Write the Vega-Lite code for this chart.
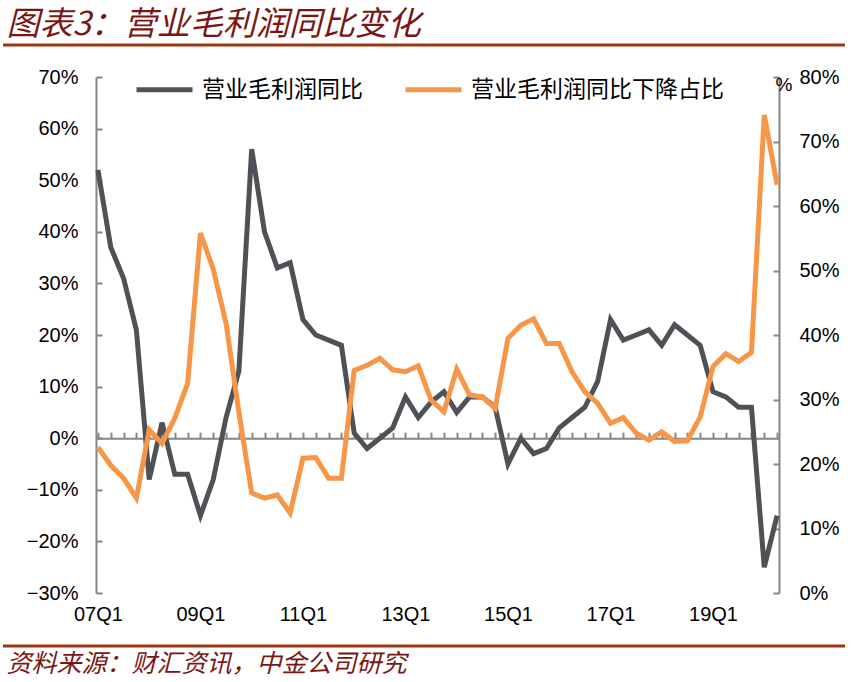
{
  "$schema": "https://vega.github.io/schema/vega-lite/v6.json",
  "background": "white",
  "padding": {"left": 0, "top": 8, "right": 8, "bottom": 0},
  "spacing": 20,
  "config": {"view": {"stroke": null}, "font": "Liberation Sans"},
  "datasets": {
    "q": [
      {"q": "07Q1", "yoy": 0.52, "share": 0.226},
      {"q": "07Q2", "yoy": 0.37, "share": 0.198},
      {"q": "07Q3", "yoy": 0.31, "share": 0.178},
      {"q": "07Q4", "yoy": 0.21, "share": 0.147},
      {"q": "08Q1", "yoy": -0.08, "share": 0.253},
      {"q": "08Q2", "yoy": 0.03, "share": 0.232},
      {"q": "08Q3", "yoy": -0.07, "share": 0.271},
      {"q": "08Q4", "yoy": -0.07, "share": 0.325},
      {"q": "09Q1", "yoy": -0.15, "share": 0.558},
      {"q": "09Q2", "yoy": -0.08, "share": 0.502},
      {"q": "09Q3", "yoy": 0.04, "share": 0.418},
      {"q": "09Q4", "yoy": 0.13, "share": 0.28},
      {"q": "10Q1", "yoy": 0.56, "share": 0.155},
      {"q": "10Q2", "yoy": 0.40, "share": 0.147},
      {"q": "10Q3", "yoy": 0.33, "share": 0.152},
      {"q": "10Q4", "yoy": 0.34, "share": 0.124},
      {"q": "11Q1", "yoy": 0.23, "share": 0.209},
      {"q": "11Q2", "yoy": 0.20, "share": 0.21},
      {"q": "11Q3", "yoy": 0.19, "share": 0.178},
      {"q": "11Q4", "yoy": 0.18, "share": 0.178},
      {"q": "12Q1", "yoy": 0.01, "share": 0.345},
      {"q": "12Q2", "yoy": -0.02, "share": 0.353},
      {"q": "12Q3", "yoy": 0.00, "share": 0.364},
      {"q": "12Q4", "yoy": 0.02, "share": 0.346},
      {"q": "13Q1", "yoy": 0.08, "share": 0.343},
      {"q": "13Q2", "yoy": 0.04, "share": 0.352},
      {"q": "13Q3", "yoy": 0.07, "share": 0.299},
      {"q": "13Q4", "yoy": 0.09, "share": 0.281},
      {"q": "14Q1", "yoy": 0.05, "share": 0.347},
      {"q": "14Q2", "yoy": 0.08, "share": 0.307},
      {"q": "14Q3", "yoy": 0.08, "share": 0.304},
      {"q": "14Q4", "yoy": 0.06, "share": 0.286},
      {"q": "15Q1", "yoy": -0.05, "share": 0.395},
      {"q": "15Q2", "yoy": 0.00, "share": 0.415},
      {"q": "15Q3", "yoy": -0.03, "share": 0.425},
      {"q": "15Q4", "yoy": -0.02, "share": 0.387},
      {"q": "16Q1", "yoy": 0.02, "share": 0.387},
      {"q": "16Q2", "yoy": 0.04, "share": 0.343},
      {"q": "16Q3", "yoy": 0.06, "share": 0.312},
      {"q": "16Q4", "yoy": 0.11, "share": 0.294},
      {"q": "17Q1", "yoy": 0.23, "share": 0.263},
      {"q": "17Q2", "yoy": 0.19, "share": 0.272},
      {"q": "17Q3", "yoy": 0.20, "share": 0.248},
      {"q": "17Q4", "yoy": 0.21, "share": 0.237},
      {"q": "18Q1", "yoy": 0.18, "share": 0.25},
      {"q": "18Q2", "yoy": 0.22, "share": 0.235},
      {"q": "18Q3", "yoy": 0.20, "share": 0.236},
      {"q": "18Q4", "yoy": 0.18, "share": 0.273},
      {"q": "19Q1", "yoy": 0.09, "share": 0.351},
      {"q": "19Q2", "yoy": 0.08, "share": 0.371},
      {"q": "19Q3", "yoy": 0.06, "share": 0.359},
      {"q": "19Q4", "yoy": 0.06, "share": 0.373},
      {"q": "20Q1", "yoy": -0.25, "share": 0.741},
      {"q": "20Q2", "yoy": -0.15, "share": 0.633}
    ]
  },
  "vconcat": [
    {
      "width": 749,
      "height": 1,
      "title": {"text": "图表3：营业毛利润同比变化", "anchor": "start", "frame": "bounds", "dx": 5, "font": "Noto Sans CJK SC", "fontSize": 33, "fontStyle": "italic", "fontWeight": "normal", "color": "#7A1712", "offset": 2},
      "data": {"values": [{"v": 0}]},
      "mark": {"type": "rule", "color": "#A0380F", "strokeWidth": 3},
      "encoding": {
        "x": {"datum": 0, "type": "quantitative", "scale": {"domain": [0, 1], "range": [-93, 749]}, "axis": null},
        "x2": {"datum": 1},
        "y": {"field": "v", "type": "quantitative", "scale": {"domain": [0, 1]}, "axis": null}
      }
    },
    {
      "width": 683,
      "height": 516,
      "data": {"name": "q"},
      "layer": [
        {
          "mark": {"type": "line", "strokeWidth": 5},
          "encoding": {
            "x": {"field": "q", "type": "ordinal", "sort": null, "scale": {"type": "point", "padding": 0.15},
              "axis": {"orient": "bottom", "values": ["07Q1", "09Q1", "11Q1", "13Q1", "15Q1", "17Q1", "19Q1"], "labelAngle": 0, "ticks": false, "domain": false, "grid": false, "labelFontSize": 20, "labelColor": "#000000", "labelPadding": 11, "title": null}},
            "y": {"field": "yoy", "type": "quantitative", "scale": {"domain": [-0.3, 0.7], "nice": false, "zero": false},
              "axis": {"orient": "left", "values": [-0.3, -0.2, -0.1, 0, 0.1, 0.2, 0.3, 0.4, 0.5, 0.6, 0.7], "format": ".0%", "grid": false, "tickSize": -6, "tickWidth": 2, "tickColor": "#868686", "domainColor": "#868686", "domainWidth": 2, "labelFontSize": 20, "labelColor": "#000000", "labelPadding": 24, "minExtent": 96, "title": null}},
            "color": {"datum": "营业毛利润同比", "type": "nominal",
              "scale": {"domain": ["营业毛利润同比", "营业毛利润同比下降占比"], "range": ["#4E5257", "#F79646"]},
              "legend": {"orient": "none", "legendX": 38, "legendY": 15, "direction": "horizontal", "title": null, "symbolType": "stroke", "symbolSize": 3136, "symbolStrokeWidth": 5, "labelFont": "Noto Sans CJK SC", "labelFontSize": 23, "labelColor": "#000000", "labelOffset": 7, "columnPadding": 32, "labelLimit": 400, "padding": 0}}
          }
        },
        {
          "mark": {"type": "line", "strokeWidth": 5},
          "encoding": {
            "x": {"field": "q", "type": "ordinal", "sort": null,
              "axis": {"orient": "top", "offset": -361.2, "labels": false, "ticks": true, "tickSize": 6, "tickWidth": 2, "tickColor": "#868686", "domainColor": "#868686", "domainWidth": 2, "grid": false, "title": null}},
            "y": {"field": "share", "type": "quantitative", "scale": {"domain": [0, 0.8], "nice": false},
              "axis": {"orient": "right", "values": [0, 0.1, 0.2, 0.3, 0.4, 0.5, 0.6, 0.7, 0.8], "format": ".0%", "grid": false, "tickSize": -6, "tickWidth": 2, "tickColor": "#868686", "domainColor": "#868686", "domainWidth": 2, "labelFontSize": 20, "labelColor": "#000000", "labelPadding": 26, "title": "%", "titleAngle": 0, "titleX": -4, "titleY": 7, "titleAlign": "left", "titleBaseline": "middle", "titleFontSize": 19, "titleFontWeight": "normal", "titleColor": "#000000"}},
            "color": {"datum": "营业毛利润同比下降占比", "type": "nominal"}
          }
        }
      ],
      "resolve": {"scale": {"y": "independent"}, "axis": {"x": "independent"}}
    },
    {
      "width": 749,
      "height": 1,
      "title": {"text": "资料来源：财汇资讯，中金公司研究", "orient": "bottom", "anchor": "start", "frame": "bounds", "dx": 5, "font": "Noto Sans CJK SC", "fontSize": 25, "fontStyle": "italic", "fontWeight": "normal", "color": "#7A1712", "offset": 4},
      "data": {"values": [{"v": 0}]},
      "mark": {"type": "rule", "color": "#A0380F", "strokeWidth": 3},
      "encoding": {
        "x": {"datum": 0, "type": "quantitative", "scale": {"domain": [0, 1], "range": [-93, 749]}, "axis": null},
        "x2": {"datum": 1},
        "y": {"field": "v", "type": "quantitative", "scale": {"domain": [0, 1]}, "axis": null}
      }
    }
  ]
}
